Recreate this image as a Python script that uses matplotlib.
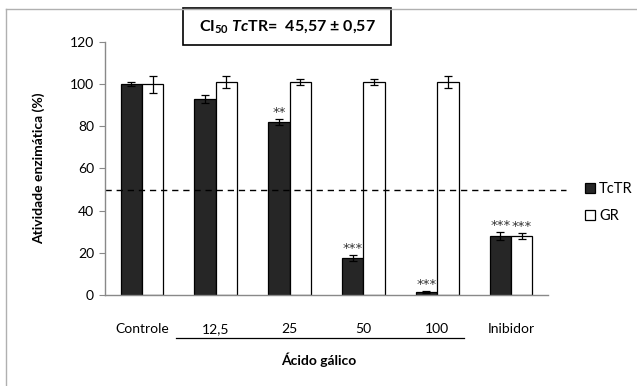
#!/usr/bin/env python3
"""
TcTR vs. GR enzyme activity under gallic acid (Ácido gálico) treatment.
"""
import numpy as np
import matplotlib
matplotlib.use("Agg")
import matplotlib.pyplot as plt
from matplotlib.patches import Rectangle
from matplotlib.lines import Line2D

categories = ["Controle", "12,5", "25", "50", "100", "Inibidor"]
tctr_values = [100, 93, 82, 17.5, 1.5, 28]
tctr_errors = [1.0, 2.0, 1.5, 1.5, 0.5, 2.0]
gr_values = [100, 101, 101, 101, 101, 28]
gr_errors = [4.0, 3.0, 1.5, 1.5, 3.0, 1.5]
tctr_marks = ["", "", "**", "***", "***", "***"]
gr_marks = ["", "", "", "", "", "***"]
ic50_line = 50

plt.rcParams["font.family"] = ["Lato", "DejaVu Sans"]
plt.rcParams["mathtext.fontset"] = "custom"
plt.rcParams["mathtext.rm"] = "Lato:bold"
plt.rcParams["mathtext.it"] = "Lato:bold:italic"

GREY = "#898989"


def main():
    fig = plt.figure(figsize=(6.37, 3.86), dpi=100)
    ax = fig.add_axes([0.165, 0.236, 0.695, 0.655])

    x = np.arange(len(categories))
    w = 0.29
    err_kw = dict(ecolor="black", elinewidth=0.9, capsize=3, capthick=0.9)
    ax.bar(x - w / 2, tctr_values, w, yerr=tctr_errors, color="#262626",
           edgecolor="black", linewidth=0.9, error_kw=err_kw, label="TcTR")
    ax.bar(x + w / 2, gr_values, w, yerr=gr_errors, color="white",
           edgecolor="black", linewidth=0.9, error_kw=err_kw, label="GR")

    star_kw = dict(textcoords="offset points", ha="center", va="bottom",
                   fontsize=9.5, family="DejaVu Sans", color="#333333")
    for i in range(len(categories)):
        if tctr_marks[i]:
            ax.annotate(tctr_marks[i], (x[i] - w / 2, tctr_values[i] + tctr_errors[i]),
                        xytext=(0, 0), **star_kw)
        if gr_marks[i]:
            ax.annotate(gr_marks[i], (x[i] + w / 2, gr_values[i] + gr_errors[i]),
                        xytext=(0, 0), **star_kw)

    ax.axhline(ic50_line, xmin=0, xmax=1.04, color="black", linewidth=1,
               linestyle=(0, (4.5, 3.5)), clip_on=False)

    ax.set_xlim(-0.5, len(categories) - 0.5)
    ax.set_ylim(0, 120)
    ax.set_yticks(np.arange(0, 121, 20))
    ax.set_xticks(x)
    ax.set_xticklabels(categories, fontsize=10)
    ax.tick_params(axis="y", labelsize=10, length=4, color=GREY, direction="out", pad=4)
    ax.tick_params(axis="x", length=0, pad=20)
    for s in ["top", "right"]:
        ax.spines[s].set_visible(False)
    for s in ["left", "bottom"]:
        ax.spines[s].set_color(GREY)
        ax.spines[s].set_linewidth(1)

    ax.set_ylabel("Atividade enzimática (%)", fontsize=10, fontweight="bold", labelpad=18)

    # line under the gallic acid concentrations
    trans = ax.get_xaxis_transform()
    ax.plot([0.46, 4.36], [-0.17, -0.17], color="black", linewidth=0.9,
            transform=trans, clip_on=False)
    ax.text(2.4, -0.255, "Ácido gálico", transform=trans, ha="center", va="center",
            fontsize=10, fontweight="bold")

    handles = [
        Line2D([], [], marker="s", linestyle="none", markersize=7.5,
               markerfacecolor="#262626", markeredgecolor="black", markeredgewidth=0.9),
        Line2D([], [], marker="s", linestyle="none", markersize=7.5,
               markerfacecolor="white", markeredgecolor="black", markeredgewidth=0.9),
    ]
    fig.legend(handles, ["TcTR", "GR"], loc="center left",
               bbox_to_anchor=(0.898, 0.475), frameon=False, fontsize=10.5,
               handlelength=0.6, handletextpad=0.35, labelspacing=0.85)

    # title box
    fig.patches.append(Rectangle((183 / 637, 1 - 45 / 386), 208 / 637, 37 / 386,
                                 transform=fig.transFigure, facecolor="white",
                                 edgecolor="black", linewidth=1.2))
    fig.text(287 / 637, 1 - 27 / 386, r"CI$_{50}$ $Tc$TR=  45,57 ± 0,57",
             ha="center", va="center", fontsize=11.5, fontweight="bold")

    # chart-area frame (top and left edges visible)
    fig.add_artist(Line2D([6 / 637, 6 / 637], [0, 1 - 9 / 386],
                          transform=fig.transFigure, color="#b0b0b0", linewidth=1))
    fig.add_artist(Line2D([6 / 637, 1], [1 - 9 / 386, 1 - 9 / 386],
                          transform=fig.transFigure, color="#b0b0b0", linewidth=1))

    fig.savefig("out.png", dpi=100)
    plt.close(fig)


if __name__ == "__main__":
    main()
